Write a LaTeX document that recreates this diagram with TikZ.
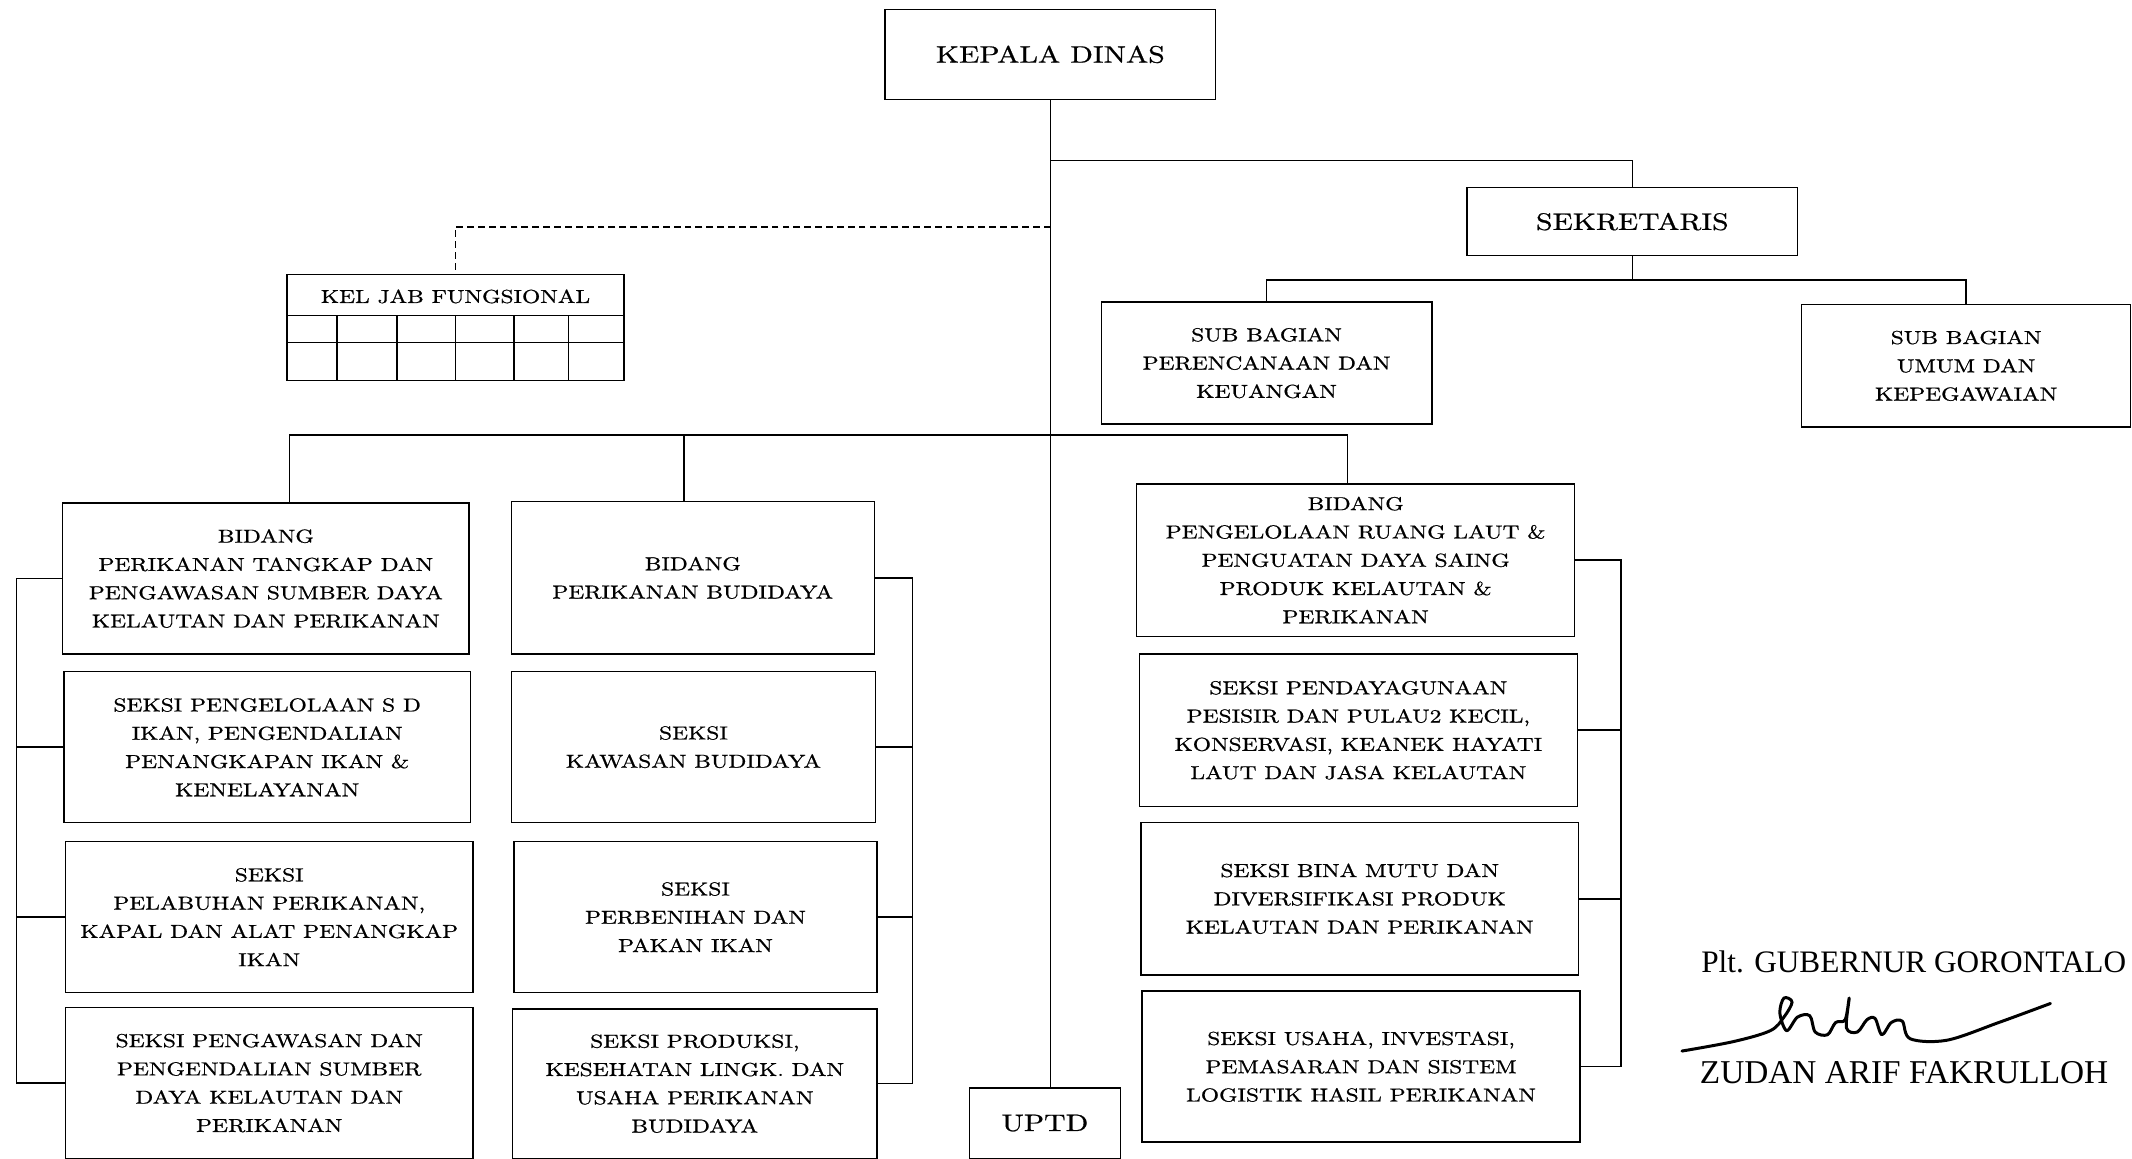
\documentclass[tikz,border=0pt]{standalone}
\usepackage{fontspec}
\newfontfamily\boxfont{lmroman10-regular.otf}[FakeStretch=1.25, FakeBold=0.8]
\newfontfamily\signfont{Liberation Serif}
\usetikzlibrary{positioning,calc}
\tikzset{>=latex}
\tikzset{
  orgbox/.style={draw, line width=1.1pt, align=center, inner sep=0pt,
    font=\boxfont\fontsize{13.8}{20.8}\selectfont},
  topbox/.style={orgbox, font=\boxfont\fontsize{17.5}{20}\selectfont},
  link/.style={line width=1.1pt},
  dashlink/.style={line width=1pt, dash pattern=on 5pt off 3pt},
  signtext/.style={anchor=base west, inner sep=0pt},
}

\begin{document}
\begin{tikzpicture}[x=1pt, y=-1pt]
\useasboundingbox[fill=white] (0,0) rectangle (1568,852);
\node[topbox, minimum width=243pt, minimum height=66pt] (kd) at (772.5,40) {KEPALA DINAS};
\node[topbox, minimum width=243pt, minimum height=50pt] (sek) at (1200.5,163) {SEKRETARIS};
\node[orgbox, minimum width=243pt, minimum height=90pt] (sbp) at (931.5,267) {SUB BAGIAN\\PERENCANAAN DAN\\KEUANGAN};
\node[orgbox, minimum width=242pt, minimum height=90pt] (sbu) at (1446,269) {SUB BAGIAN\\UMUM DAN\\KEPEGAWAIAN};
\node[orgbox, minimum width=248pt, minimum height=78pt] (kel) at (335,241) {};
\node[font=\boxfont\fontsize{13.8}{16}\selectfont, inner sep=0pt] (keltitle) at (335,218) {KEL JAB FUNGSIONAL};
\node[topbox, minimum width=111pt, minimum height=52pt] (uptd) at (768.5,826) {UPTD};

\node[orgbox, minimum width=299pt, minimum height=111pt] (bpt) at (195.5,425.5) {BIDANG\\PERIKANAN TANGKAP DAN\\PENGAWASAN SUMBER DAYA\\KELAUTAN DAN PERIKANAN};
\node[orgbox, minimum width=299pt, minimum height=111pt] (spl) at (196.5,549.5) {SEKSI PENGELOLAAN S D\\IKAN, PENGENDALIAN\\PENANGKAPAN IKAN \&\\KENELAYANAN};
\node[orgbox, minimum width=300pt, minimum height=111pt] (spp) at (198,674.5) {SEKSI\\PELABUHAN PERIKANAN,\\KAPAL DAN ALAT PENANGKAP\\IKAN};
\node[orgbox, minimum width=300pt, minimum height=111pt] (spw) at (198,796.5) {SEKSI PENGAWASAN DAN\\PENGENDALIAN SUMBER\\DAYA KELAUTAN DAN\\PERIKANAN};

\node[orgbox, minimum width=267pt, minimum height=112pt] (bpb) at (509.5,425) {BIDANG\\PERIKANAN BUDIDAYA};
\node[orgbox, minimum width=268pt, minimum height=111pt] (skw) at (510,549.5) {SEKSI\\KAWASAN BUDIDAYA};
\node[orgbox, minimum width=267pt, minimum height=111pt] (spb) at (511.5,674.5) {SEKSI\\PERBENIHAN DAN\\PAKAN IKAN};
\node[orgbox, minimum width=268pt, minimum height=110pt] (spr) at (511,797) {SEKSI PRODUKSI,\\KESEHATAN LINGK. DAN\\USAHA PERIKANAN\\BUDIDAYA};

\node[orgbox, minimum width=322pt, minimum height=112pt] (bpr) at (997,412) {BIDANG\\PENGELOLAAN RUANG LAUT \&\\PENGUATAN DAYA SAING\\PRODUK KELAUTAN \&\\PERIKANAN};
\node[orgbox, minimum width=322pt, minimum height=112pt] (sdy) at (999,537) {SEKSI PENDAYAGUNAAN\\PESISIR DAN PULAU2 KECIL,\\KONSERVASI, KEANEK HAYATI\\LAUT DAN JASA KELAUTAN};
\node[orgbox, minimum width=322pt, minimum height=112pt] (sbm) at (1000,661) {SEKSI BINA MUTU DAN\\DIVERSIFIKASI PRODUK\\KELAUTAN DAN PERIKANAN};
\node[orgbox, minimum width=322pt, minimum height=111pt] (sus) at (1001,784.5) {SEKSI USAHA, INVESTASI,\\PEMASARAN DAN SISTEM\\LOGISTIK HASIL PERIKANAN};

\coordinate (sekjoin) at (772.5,118);
\coordinate (subjoin) at (1200.5,206);
\coordinate (jabjoin) at (772.5,167);
\coordinate (busL) at (213,320);
\coordinate (busM) at (503,320);
\coordinate (busR) at (991,320);
\coordinate (rakL) at (12,0);
\coordinate (rakM) at (671,0);
\coordinate (rakR) at (1192,0);

\draw[link] (kd.south) -- (kd.south |- uptd.north);
\draw[link] (sekjoin) -| (sek.north);
\draw[link] (sek.south) -- (subjoin);
\draw[link] (sbp.north) |- (subjoin) -| (sbu.north);
\draw[dashlink] (jabjoin) -| (kel.north);

\draw[link] (kel.west |- 0,232) -- (kel.east |- 0,232);
\draw[link] (kel.west |- 0,252) -- (kel.east |- 0,252);
\foreach \x in {248,292,335,378,418}
  \draw[link] (\x,232) -- (\x,280);

\draw[link] (busL |- bpt.north) -- (busL) -- (busR) -- (busR |- bpr.north);
\draw[link] (busM) -- (busM |- bpb.north);

\draw[link] (bpt.west) -- (bpt.west -| rakL) -- (spw.west -| rakL) -- (spw.west);
\foreach \n in {spl,spp}
  \draw[link] (\n.west) -- (\n.west -| rakL);
\draw[link] (bpb.east) -- (bpb.east -| rakM) -- (spr.east -| rakM) -- (spr.east);
\foreach \n in {skw,spb}
  \draw[link] (\n.east) -- (\n.east -| rakM);
\draw[link] (bpr.east) -- (bpr.east -| rakR) -- (sus.east -| rakR) -- (sus.east);
\foreach \n in {sdy,sbm}
  \draw[link] (\n.east) -- (\n.east -| rakR);

\node[signtext, font=\signfont\fontsize{23}{26}\selectfont] (plt) at (1251,715) {Plt. GUBERNUR GORONTALO};
\node[signtext, font=\signfont\fontsize{24.5}{27}\selectfont] (gub) at (1250,797) {ZUDAN ARIF FAKRULLOH};
\draw[line width=2.2pt, line cap=round, line join=round] plot[smooth, tension=.55] coordinates {
  (1237,773) (1275,766) (1302,758) (1312,748) (1318,737) (1312,734) (1309,745) (1314,758)
  (1322,748) (1331,747) (1335,759) (1344,761) (1350,752) (1357,750) (1360,734)
  (1358,756) (1366,759) (1373,750) (1379,749) (1384,761) (1391,752) (1399,751)
  (1405,764) (1432,765) (1470,752) (1508,738)};
\end{tikzpicture}
\end{document}
